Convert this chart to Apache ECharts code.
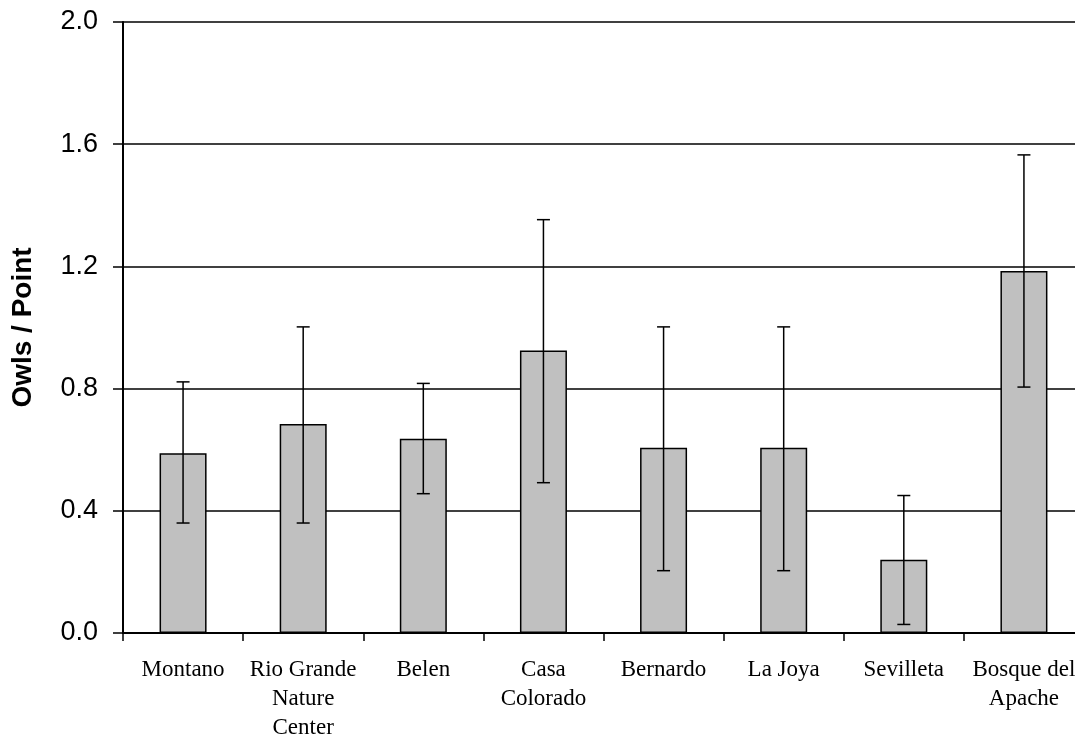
<!DOCTYPE html>
<html>
<head>
<meta charset="utf-8">
<script src="https://cdn.jsdelivr.net/npm/echarts@6/dist/echarts.min.js"></script>
<style>html,body{margin:0;padding:0;background:#fff;}#c{width:1075px;height:738px;}</style>
</head>
<body>
<div id="c"></div>
<script>
const categories = ['Montano', 'Rio Grande\nNature\nCenter', 'Belen', 'Casa\nColorado', 'Bernardo', 'La Joya', 'Sevilleta', 'Bosque del\nApache'];
const owlsPerPoint = [0.588, 0.684, 0.636, 0.925, 0.606, 0.606, 0.24, 1.185];
const errorUpper = [0.822, 1.002, 0.817, 1.353, 1.002, 1.002, 0.45, 1.565];
const errorLower = [0.36, 0.36, 0.456, 0.492, 0.204, 0.204, 0.028, 0.805];
const yTicks = [0, 0.4, 0.8, 1.2, 1.6, 2.0];

const chart = echarts.init(document.getElementById('c'), null, {renderer: 'canvas'});
const errData = categories.map((c, i) => [i, errorLower[i], errorUpper[i]]);

chart.setOption({
  animation: false,
  backgroundColor: '#ffffff',
  grid: {left: 123, right: -9, top: 22, bottom: 105, containLabel: false, outerBoundsMode: 'none'},
  xAxis: {
    type: 'category',
    data: categories,
    axisLine: {lineStyle: {color: '#000', width: 2}},
    axisTick: {show: true, length: 8, lineStyle: {color: '#000', width: 1.5}, alignWithLabel: false},
    axisLabel: {
      color: '#000', fontFamily: '"Liberation Serif", "Times New Roman", serif', fontSize: 23,
      lineHeight: 29, margin: 22, interval: 0
    },
    splitLine: {show: false}
  },
  yAxis: {
    type: 'value',
    min: yTicks[0], max: yTicks[yTicks.length - 1], interval: 0.4,
    name: 'Owls / Point',
    nameLocation: 'middle',
    nameGap: 86,
    nameRotate: 90,
    nameTextStyle: {color: '#000', fontFamily: '"Liberation Sans", Arial, sans-serif', fontSize: 28, fontWeight: 'bold'},
    axisLine: {show: true, lineStyle: {color: '#000', width: 2}},
    axisTick: {show: true, length: 10, lineStyle: {color: '#000', width: 1.5}},
    axisLabel: {
      color: '#000', fontFamily: '"Liberation Sans", Arial, sans-serif', fontSize: 27, margin: 25,
      formatter: v => v.toFixed(1)
    },
    splitLine: {show: true, lineStyle: {color: '#000', width: 1.5}}
  },
  series: [
    {
      type: 'bar',
      data: owlsPerPoint,
      barWidth: 47,
      itemStyle: {color: '#c0c0c0', borderColor: '#000', borderWidth: 1.5},
      z: 2
    },
    {
      type: 'custom',
      data: errData,
      z: 3,
      renderItem: function (params, api) {
        const x = api.value(0);
        const lo = api.coord([x, api.value(1)]);
        const hi = api.coord([x, api.value(2)]);
        const hw = 6.5;
        const st = {stroke: '#000', lineWidth: 1.5};
        return {
          type: 'group',
          children: [
            {type: 'line', shape: {x1: lo[0], y1: lo[1], x2: hi[0], y2: hi[1]}, style: st},
            {type: 'line', shape: {x1: hi[0] - hw, y1: hi[1], x2: hi[0] + hw, y2: hi[1]}, style: st},
            {type: 'line', shape: {x1: lo[0] - hw, y1: lo[1], x2: lo[0] + hw, y2: lo[1]}, style: st}
          ]
        };
      }
    }
  ]
});
</script>
</body>
</html>
